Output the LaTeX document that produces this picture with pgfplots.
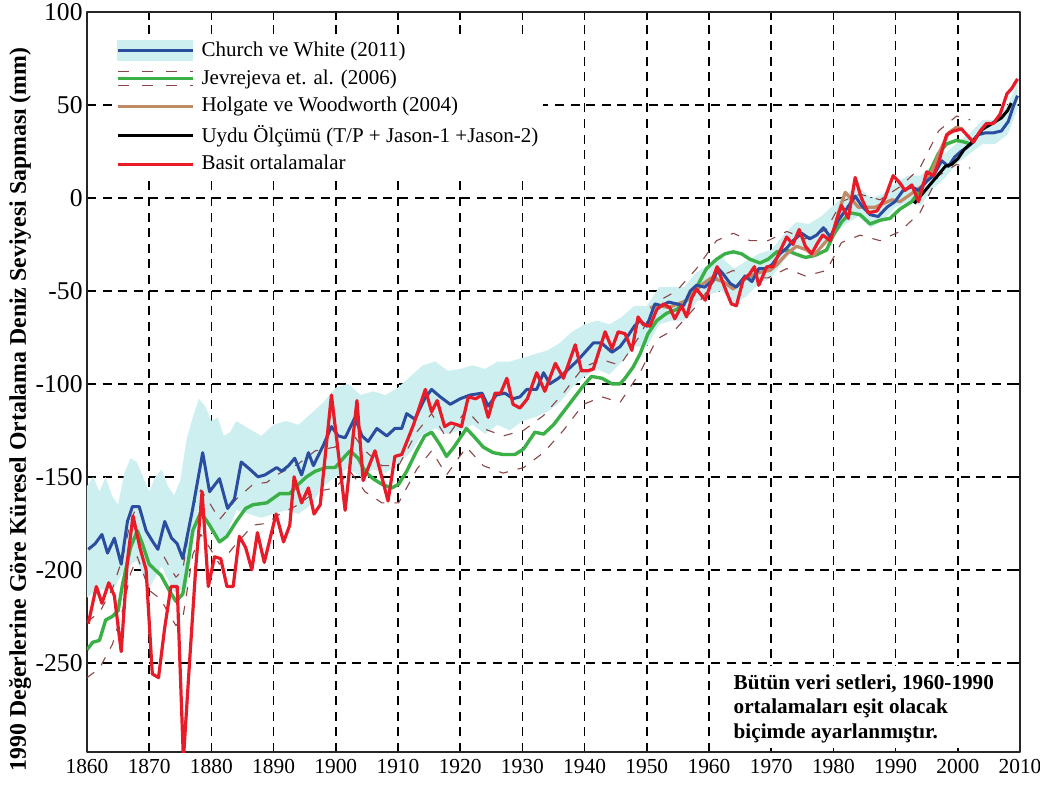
\documentclass[border=0pt]{standalone}
\usepackage{fontspec}
\setmainfont{Liberation Serif}
\usepackage{pgfplots}
\pgfplotsset{compat=1.18}

\definecolor{cwblue}{RGB}{43,77,160}
\definecolor{jgreen}{RGB}{58,176,70}
\definecolor{hwbrown}{RGB}{192,138,102}
\definecolor{avgred}{RGB}{232,28,40}
\definecolor{bandcyan}{RGB}{205,239,240}
\definecolor{jdash}{RGB}{139,70,74}

\begin{document}
\begin{tikzpicture}
\begin{axis}[
  name=ax,
  scale only axis,
  width=466.5pt, height=370pt,
  xmin=1860, xmax=2010, ymin=-298, ymax=100,
  xtick={1860,1870,...,2010},
  ytick={-250,-200,-150,-100,-50,0,50,100},
  yticklabels={-250,-200,-150,-100,-50,0,50,100},
  /pgf/number format/assume math mode=true,
  /pgf/number format/1000 sep={},
  xticklabel style={font=\fontsize{10.7}{12}\selectfont},
  yticklabel style={font=\fontsize{12.8}{14}\selectfont, inner sep=2pt},
  tick align=inside,
  major tick length=4pt,
  tick style={black, line width=0.8pt},
  axis line style={black!85, line width=0.9pt},
  grid=major,
  major grid style={black, line width=0.75pt, dash pattern=on 4.5pt off 3.3pt},
  ylabel={1990 Değerlerine Göre Küresel Ortalama Deniz Seviyesi Sapması (mm)},
  ylabel style={at={(axis description cs:-0.0718,0.463)}, anchor=center,
                font=\bfseries\fontsize{11.9}{13}\selectfont},
  legend cell align=left,
  legend style={draw=none, fill=white, inner sep=1pt,
                at={(0.0287,0.967)}, anchor=north west,
                font=\fontsize{10.5}{12}\selectfont, row sep=2.1pt,
                column sep=2pt, nodes={inner sep=1.5pt}},
  line join=round,
]

% Church & White (2011) uncertainty band
\addplot[fill=bandcyan, draw=none, forget plot] coordinates {
(1860,-155) (1861,-150) (1862,-158) (1863,-150) (1864,-160) (1865,-165)
(1866,-148) (1867,-140) (1868,-142) (1869,-150) (1870,-158) (1871,-150)
(1872,-146) (1873,-155) (1874,-160) (1875,-152) (1876,-130) (1877,-118)
(1878,-108) (1879,-112) (1880,-120) (1881,-118) (1882,-128) (1883,-126)
(1884,-120) (1886,-124) (1888,-128) (1890,-122) (1892,-120) (1894,-122)
(1896,-116) (1898,-110) (1900,-102) (1902,-100) (1904,-106) (1906,-104)
(1908,-106) (1910,-102) (1912,-96) (1914,-90) (1916,-88) (1918,-93)
(1920,-92) (1922,-90) (1924,-92) (1926,-88) (1928,-88) (1930,-86)
(1932,-84) (1934,-82) (1936,-78) (1938,-72) (1940,-68) (1942,-66)
(1944,-68) (1946,-64) (1948,-58) (1950,-58) (1952,-48) (1954,-48)
(1956,-48) (1958,-40) (1960,-36) (1962,-32) (1964,-38) (1966,-34)
(1968,-30) (1970,-28) (1972,-20) (1974,-13) (1976,-14) (1978,-10)
(1980,-4) (1982,2) (1984,6) (1986,0) (1988,2) (1990,8) (1992,12)
(1994,12) (1996,18) (1998,24) (2000,30) (2002,35) (2004,42) (2006,42)
(2008,50) (2009.6,62)
(2009.6,48) (2008,34) (2006,29) (2004,29) (2002,24) (2000,19) (1998,11)
(1996,5) (1994,-4) (1992,-2) (1990,-5) (1988,-12) (1986,-16) (1984,-10)
(1982,-14) (1980,-20) (1978,-25) (1976,-29) (1974,-27) (1972,-34)
(1970,-43) (1968,-46) (1966,-53) (1964,-57) (1962,-50) (1960,-52)
(1958,-56) (1956,-66) (1954,-66) (1952,-68) (1950,-80) (1948,-80)
(1946,-88) (1944,-95) (1942,-92) (1940,-96) (1938,-102) (1936,-110)
(1934,-115) (1932,-118) (1930,-120) (1928,-125) (1926,-122) (1924,-127)
(1922,-122) (1920,-125) (1918,-127) (1916,-124) (1914,-127) (1912,-137)
(1910,-143) (1908,-148) (1906,-146) (1904,-150) (1902,-145) (1900,-150)
(1898,-155) (1896,-165) (1894,-170) (1892,-168) (1890,-170) (1888,-172)
(1886,-170) (1884,-168) (1882,-185) (1880,-180) (1878,-165) (1876,-210)
(1874,-212) (1872,-198) (1870,-210) (1868,-195) (1866,-200) (1864,-212)
(1862,-210) (1860,-215)
} -- cycle;

% Jevrejeva et al. (2006) uncertainty bounds
\addplot[jdash, line width=0.55pt, dash pattern=on 4.5pt off 5pt, forget plot] coordinates {
(1860.0,-228) (1862.0,-223) (1864.1,-210) (1865.7,-194) (1867.0,-174)
(1868.1,-165) (1870.0,-183) (1871.9,-190) (1873.2,-198) (1874.3,-204)
(1875.4,-200) (1877.0,-166) (1878.3,-157) (1879.7,-164) (1881.3,-173)
(1884.0,-162) (1886.7,-154) (1888.9,-153) (1891.0,-148) (1894.0,-143)
(1896.7,-136) (1899.9,-134) (1902.3,-125) (1904.7,-136) (1907.4,-144)
(1910.1,-144) (1913.0,-126) (1915.4,-116) (1917.8,-129) (1921.0,-114)
(1923.7,-124) (1926.9,-128) (1930.2,-125) (1933.4,-117) (1936.6,-105)
(1939.8,-91) (1942.8,-87) (1945.7,-90) (1948.9,-74) (1951.6,-56)
(1954.8,-50) (1958.0,-38) (1961.2,-23) (1963.9,-19) (1966.6,-23)
(1969.5,-23) (1972.5,-18) (1975.5,-22) (1978.9,-17) (1981.3,-2)
(1984.3,2) (1987.5,-1) (1990.7,6) (1993.9,16) (1996.9,36) (1999.8,44)
(2002.0,42)
};
\addplot[jdash, line width=0.55pt, dash pattern=on 4.5pt off 5pt, forget plot] coordinates {
(1860.0,-258) (1862.0,-253) (1864.1,-240) (1865.7,-222) (1867.0,-202)
(1868.1,-193) (1870.0,-211) (1871.9,-216) (1873.2,-224) (1874.3,-230)
(1875.4,-226) (1877.0,-192) (1878.3,-181) (1879.7,-188) (1881.3,-197)
(1884.0,-186) (1886.7,-176) (1888.9,-175) (1891.0,-170) (1894.0,-165)
(1896.7,-158) (1899.9,-156) (1902.3,-147) (1904.7,-158) (1907.4,-164)
(1910.1,-164) (1913.0,-146) (1915.4,-136) (1917.8,-149) (1921.0,-134)
(1923.7,-144) (1926.9,-148) (1930.2,-145) (1933.4,-137) (1936.6,-125)
(1939.8,-111) (1942.8,-107) (1945.7,-110) (1948.9,-94) (1951.6,-76)
(1954.8,-70) (1958.0,-58) (1961.2,-43) (1963.9,-39) (1966.6,-43)
(1969.5,-43) (1972.5,-38) (1975.5,-42) (1978.9,-39) (1981.3,-24)
(1984.3,-20) (1987.5,-23) (1990.7,-18) (1993.9,-8) (1996.9,12) (1999.8,18)
(2002.0,16)
};

% Jevrejeva et al. (2006)
\addplot[jgreen, line width=1.7pt, forget plot] coordinates {
(1860.0,-243) (1860.9,-239) (1862.0,-238) (1863.0,-227) (1864.1,-225)
(1865.0,-222) (1865.7,-208) (1867.0,-188) (1868.1,-179) (1868.9,-186)
(1870.0,-197) (1871.9,-203) (1873.2,-211) (1874.3,-217) (1875.4,-213)
(1876.3,-195) (1877.0,-179) (1878.3,-169) (1879.7,-176) (1881.3,-185)
(1882.5,-182) (1884.0,-174) (1885.5,-167) (1886.7,-165) (1888.9,-164)
(1891.0,-159) (1892.6,-159) (1894.0,-154) (1895.3,-150) (1896.7,-147)
(1898.5,-145) (1899.9,-145) (1901.2,-140) (1902.3,-136) (1903.6,-140)
(1904.7,-147) (1906.0,-151) (1907.4,-154) (1909.0,-156) (1910.1,-154)
(1911.4,-147) (1913.0,-136) (1914.3,-128) (1915.4,-126) (1916.8,-133)
(1917.8,-139) (1919.0,-134) (1921.0,-124) (1922.4,-129) (1923.7,-134)
(1925.3,-137) (1926.9,-138) (1928.8,-138) (1930.2,-135) (1932.0,-126)
(1933.4,-127) (1935.0,-122) (1936.6,-115) (1938.2,-108) (1939.8,-101)
(1941.1,-96) (1942.8,-97) (1944.4,-100) (1945.7,-100) (1946.5,-97)
(1947.8,-91) (1948.9,-84) (1950.2,-73) (1951.6,-66) (1953.2,-62)
(1954.8,-60) (1956.4,-55) (1958.0,-48) (1959.6,-38) (1961.2,-33)
(1962.6,-30) (1963.9,-29) (1965.2,-30) (1966.6,-33) (1968.2,-35)
(1969.5,-33) (1970.9,-29) (1972.5,-28) (1973.8,-30) (1975.5,-32)
(1977.0,-31) (1978.9,-28) (1980.0,-20) (1981.3,-13) (1982.7,-8)
(1984.3,-9) (1985.9,-14) (1987.5,-12) (1989.1,-11) (1990.7,-6)
(1992.6,-2) (1993.9,4) (1995.5,14) (1996.9,24) (1998.2,29) (1999.8,31)
(2001.1,30) (2002.0,29)
};

% Holgate & Woodworth (2004)
\addplot[hwbrown, line width=1.6pt, forget plot] coordinates {
(1950.5,-59) (1952.0,-58) (1953.5,-59) (1955.0,-57) (1956.5,-55)
(1957.5,-51) (1959.1,-46) (1960.4,-43) (1962.3,-45) (1963.9,-49)
(1965.2,-45) (1966.6,-42) (1968.2,-40) (1969.8,-39) (1970.9,-36)
(1972.5,-30) (1974.1,-26) (1975.7,-28) (1976.8,-31) (1978.4,-25)
(1980.0,-19) (1980.8,-8) (1981.9,3) (1983.0,-1) (1984.0,-5) (1986.7,-5)
(1989.4,-1) (1990.7,-2) (1992.0,1) (1994.5,7) (1995.8,14) (1997.1,25)
(1998.5,35) (1999.8,38) (2000.8,37)
};

% Church & White (2011)
\addplot[cwblue, line width=1.5pt, forget plot] coordinates {
(1860.2,-189) (1861.3,-186) (1862.4,-181) (1863.3,-191) (1864.4,-183)
(1865.5,-197) (1866.5,-174) (1867.3,-166) (1868.4,-166) (1869.5,-179)
(1870.6,-185) (1871.4,-189) (1872.5,-174) (1873.6,-183) (1874.5,-186)
(1875.4,-194) (1877.0,-167) (1878.6,-137) (1879.7,-158) (1881.3,-151)
(1882.6,-167) (1883.7,-162) (1884.8,-142) (1886.2,-146) (1887.5,-150)
(1888.6,-149) (1890.5,-145) (1891.3,-147) (1892.4,-144) (1893.4,-140)
(1894.5,-149) (1895.6,-137) (1896.4,-144) (1898.0,-133) (1899.3,-123)
(1900.4,-128) (1901.5,-129) (1903.1,-118) (1904.2,-128) (1905.2,-131)
(1906.6,-124) (1908.2,-128) (1909.5,-124) (1910.6,-124) (1911.4,-116)
(1912.7,-119) (1914.3,-108) (1915.4,-103) (1916.8,-107) (1918.4,-111)
(1920.0,-108) (1921.6,-106) (1923.5,-105) (1924.5,-112) (1925.8,-106)
(1927.2,-105) (1928.5,-108) (1929.6,-107) (1930.7,-103) (1932.3,-103)
(1933.4,-94) (1934.4,-100) (1935.8,-97) (1937.1,-93) (1938.7,-88)
(1939.8,-84) (1941.4,-78) (1942.7,-78) (1944.4,-83) (1945.7,-80)
(1946.8,-75) (1948.0,-69) (1948.9,-66) (1950.0,-69) (1951.3,-57)
(1952.4,-58) (1953.5,-56) (1954.8,-57) (1955.9,-58) (1957.0,-50)
(1958.0,-47) (1959.3,-48) (1960.7,-44) (1961.5,-38) (1962.3,-41)
(1963.4,-46) (1964.4,-48) (1965.8,-42) (1966.9,-45) (1968.0,-38)
(1969.0,-38) (1970.1,-36) (1971.4,-30) (1972.5,-27) (1973.5,-23)
(1974.9,-19) (1976.2,-22) (1977.3,-20) (1978.4,-16) (1979.5,-21)
(1980.8,-12) (1981.9,-7) (1983.5,1) (1984.5,-4) (1985.9,-9) (1987.2,-10)
(1988.6,-5) (1989.9,-2) (1991.2,4) (1992.6,6) (1993.7,4) (1995.0,9)
(1996.1,12) (1997.4,20) (1998.5,17) (1999.5,22) (2000.5,25) (2001.4,27)
(2002.5,30) (2003.3,34) (2004.4,35) (2005.7,35) (2007.0,36) (2008.1,41)
(2008.9,49) (2009.6,55)
};

% Satellite altimetry (T/P + Jason-1 + Jason-2)
\addplot[black, line width=1.5pt, forget plot] coordinates {
(1993.0,-3) (1994.0,1) (1995.0,5) (1996.0,9) (1997.0,13) (1998.0,17)
(1999.0,18) (2000.0,21) (2001.0,26) (2002.0,29) (2003.0,33) (2004.0,37)
(2005.0,39) (2006.0,41) (2007.0,43) (2008.0,47) (2008.6,51)
};

% Simple averages
\addplot[avgred, line width=1.6pt, forget plot] coordinates {
(1860.2,-229) (1861.5,-209) (1862.4,-218) (1863.5,-207) (1864.4,-214)
(1865.5,-244) (1866.5,-195) (1867.4,-171) (1868.5,-188) (1869.5,-200)
(1870.5,-256) (1871.5,-258) (1872.5,-231) (1873.5,-209) (1874.5,-209)
(1875.5,-302) (1876.5,-249) (1877.5,-198) (1878.5,-158) (1879.5,-209)
(1880.5,-193) (1881.5,-194) (1882.5,-209) (1883.5,-209) (1884.5,-182)
(1885.5,-188) (1886.5,-200) (1887.4,-180) (1888.5,-196) (1890.4,-170)
(1891.6,-185) (1892.6,-176) (1893.3,-150) (1894.5,-164) (1895.6,-156)
(1896.5,-170) (1897.5,-165) (1899.3,-106) (1901.5,-168) (1903.4,-109)
(1904.4,-152) (1906.3,-136) (1908.4,-163) (1909.5,-139) (1910.6,-138)
(1912.5,-122) (1914.4,-103) (1915.4,-115) (1916.3,-109) (1917.5,-123)
(1918.5,-121) (1919.5,-122) (1920.2,-123) (1921.3,-107) (1922.5,-108)
(1923.5,-106) (1924.5,-118) (1925.6,-105) (1926.5,-105) (1927.5,-97)
(1928.5,-111) (1929.6,-113) (1930.8,-108) (1932.3,-94) (1933.6,-104)
(1935.3,-89) (1936.6,-97) (1938.5,-79) (1939.5,-93) (1940.5,-93)
(1941.4,-92) (1943.3,-72) (1944.4,-81) (1945.4,-72) (1946.5,-73)
(1947.6,-82) (1948.6,-64) (1949.4,-68) (1950.5,-69) (1951.6,-60)
(1952.7,-57) (1953.7,-59) (1954.5,-65) (1955.6,-58) (1956.4,-64)
(1957.2,-54) (1958.0,-49) (1959.4,-55) (1960.3,-46) (1961.3,-37)
(1962.4,-47) (1963.6,-57) (1964.4,-58) (1965.5,-44) (1966.5,-41)
(1967.3,-37) (1968.0,-47) (1969.3,-37) (1970.3,-37) (1971.5,-28)
(1972.5,-21) (1973.5,-25) (1974.5,-17) (1975.5,-26) (1976.5,-30)
(1977.5,-24) (1978.3,-20) (1979.5,-23) (1980.5,-12) (1981.3,-4)
(1982.4,-11) (1983.5,11) (1984.5,0) (1985.6,-8) (1987.0,-7) (1988.3,0)
(1989.6,12) (1990.7,8) (1991.5,4) (1992.6,7) (1993.7,-2) (1995.0,14)
(1996.1,12) (1997.0,20) (1998.2,34) (1999.3,36) (2000.6,37) (2001.7,33)
(2002.5,30) (2003.6,36) (2004.6,40) (2005.7,40) (2006.8,45) (2007.9,56)
(2008.7,59) (2009.6,64)
};

% legend
\addlegendimage{legend image code/.code={
  \fill[bandcyan] (0pt,-5pt) rectangle (37.5pt,5pt);
  \draw[cwblue, line width=1.5pt] (0pt,0pt) -- (37.5pt,0pt);}}
\addlegendentry{Church ve White (2011)}
\addlegendimage{legend image code/.code={
  \draw[jdash, line width=0.6pt, dash pattern=on 5.5pt off 6.5pt] (0pt,3.4pt) -- (37.5pt,3.4pt);
  \draw[jdash, line width=0.6pt, dash pattern=on 5.5pt off 6.5pt] (0pt,-3.4pt) -- (37.5pt,-3.4pt);
  \draw[jgreen, line width=1.7pt] (0pt,0pt) -- (37.5pt,0pt);}}
\addlegendentry{Jevrejeva et. al. (2006)}
\addlegendimage{legend image code/.code={
  \draw[hwbrown, line width=1.6pt] (0pt,0pt) -- (37.5pt,0pt);}}
\addlegendentry{Holgate ve Woodworth (2004)}
\addlegendimage{legend image code/.code={
  \draw[black, line width=1.5pt] (0pt,0pt) -- (37.5pt,0pt);}}
\addlegendentry{Uydu Ölçümü (T/P + Jason-1 +Jason-2)}
\addlegendimage{legend image code/.code={
  \draw[avgred, line width=1.6pt] (0pt,0pt) -- (37.5pt,0pt);}}
\addlegendentry{Basit ortalamalar}

% note on the baseline
\fill[white] (axis cs:1960.5,-251.5) rectangle (axis cs:2009.6,-296);
\node[anchor=north west, align=left, inner sep=0pt,
      font=\bfseries\fontsize{10.6}{12.25}\selectfont]
  at (axis cs:1963.9,-256)
  {Bütün veri setleri, 1960-1990\\ortalamaları eşit olacak\\biçimde ayarlanmıştır.};
\end{axis}
\pgfresetboundingbox
\path ([shift={(-43.5pt,-19pt)}]ax.south west) rectangle ([shift={(10pt,6pt)}]ax.north east);
\end{tikzpicture}
\end{document}
